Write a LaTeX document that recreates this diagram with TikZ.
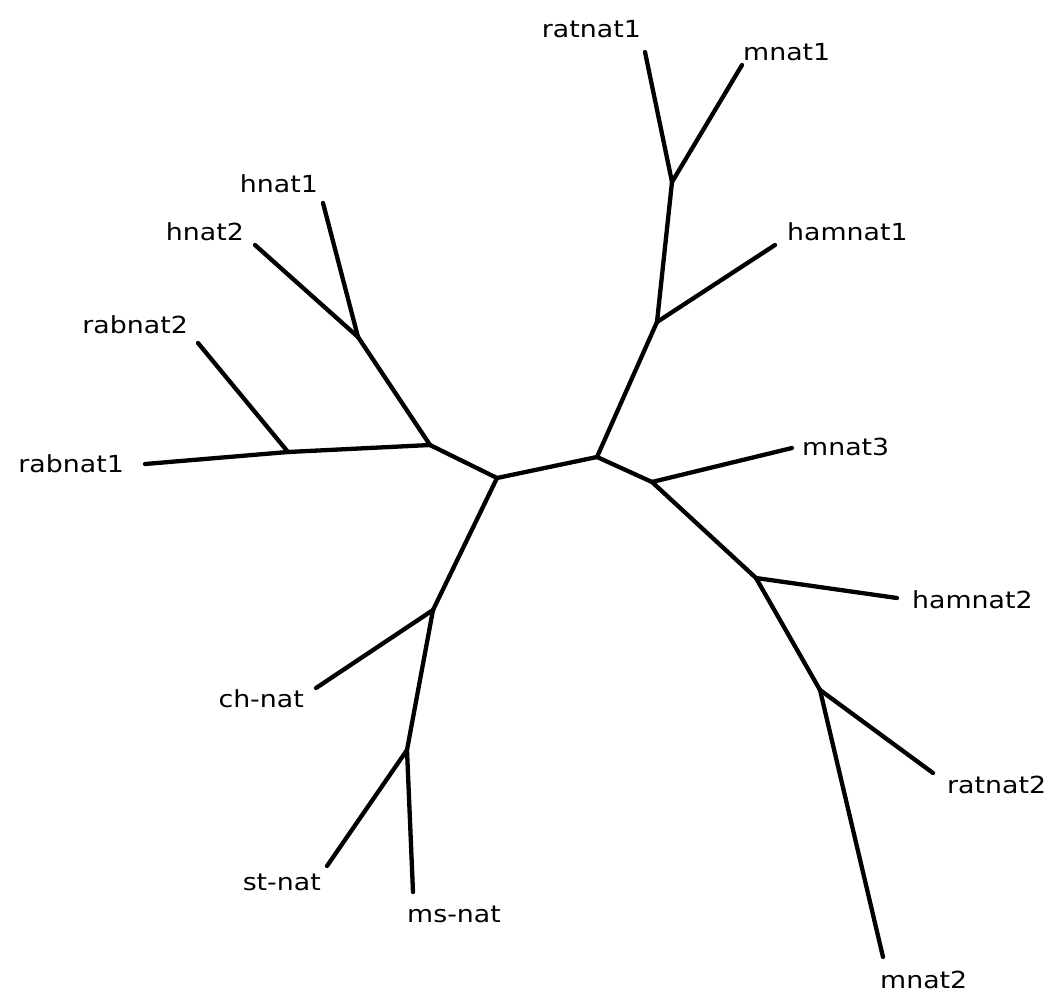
\documentclass[tikz,border=0pt]{standalone}
\usepackage{fontspec}
\newfontfamily\lab[FakeStretch=1.14]{DejaVu Sans}
\begin{document}
\begin{tikzpicture}[x=1pt,y=-1pt,
  branch/.style={line width=4.3pt,line cap=round,line join=round},
  lbl/.style={inner sep=0pt,font=\lab\fontsize{23.5}{27}\selectfont},
  lw/.style={lbl,anchor=base west},
  le/.style={lbl,anchor=base east}]
\useasboundingbox (0,0) rectangle (1058,993);
% internal nodes
\coordinate (A) at (497,478);
\coordinate (B) at (597,457);
\coordinate (C) at (430,445);
\coordinate (R) at (288,452);
\coordinate (Hn) at (358,337);
\coordinate (Ch) at (433,610);
\coordinate (St) at (407,750);
\coordinate (H) at (657,322);
\coordinate (G) at (672,182);
\coordinate (D) at (652,482);
\coordinate (E) at (756,578);
\coordinate (F) at (820,690);
% tips
\coordinate (trab1) at (145,464);
\coordinate (trab2) at (198,343);
\coordinate (th2) at (255,245);
\coordinate (th1) at (323,203);
\coordinate (tch) at (316,688);
\coordinate (tst) at (327,866);
\coordinate (tms) at (413,892);
\coordinate (tham1) at (775,245);
\coordinate (trat1) at (645,52);
\coordinate (tm1) at (742,65);
\coordinate (tm3) at (792,448);
\coordinate (tham2) at (897,598);
\coordinate (trat2) at (933,773);
\coordinate (tm2) at (883,957);
% branches
\draw[branch] (A) -- (B);
\draw[branch] (A) -- (C);
\draw[branch] (C) -- (R);
\draw[branch] (R) -- (trab1);
\draw[branch] (R) -- (trab2);
\draw[branch] (C) -- (Hn);
\draw[branch] (Hn) -- (th2);
\draw[branch] (Hn) -- (th1);
\draw[branch] (A) -- (Ch);
\draw[branch] (Ch) -- (tch);
\draw[branch] (Ch) -- (St);
\draw[branch] (St) -- (tst);
\draw[branch] (St) -- (tms);
\draw[branch] (B) -- (H);
\draw[branch] (H) -- (tham1);
\draw[branch] (H) -- (G);
\draw[branch] (G) -- (trat1);
\draw[branch] (G) -- (tm1);
\draw[branch] (B) -- (D);
\draw[branch] (D) -- (tm3);
\draw[branch] (D) -- (E);
\draw[branch] (E) -- (tham2);
\draw[branch] (E) -- (F);
\draw[branch] (F) -- (trat2);
\draw[branch] (F) -- (tm2);
% labels
\node[le] (lrat1) at (641,37) {ratnat1};
\node[lw] (lm1) at (743,60) {mnat1};
\node[le] (lh1) at (318,192) {hnat1};
\node[le] (lh2) at (244,240) {hnat2};
\node[lw] (lham1) at (787,240) {hamnat1};
\node[le] (lrab2) at (188,333) {rabnat2};
\node[le] (lrab1) at (124,472) {rabnat1};
\node[lw] (lm3) at (802,455) {mnat3};
\node[lw] (lham2) at (912,608) {hamnat2};
\node[le] (lch) at (304,707) {ch-nat};
\node[lw] (lrat2) at (947,793) {ratnat2};
\node[le] (lst) at (321,890) {st-nat};
\node[lw] (lms) at (407,922) {ms-nat};
\node[lw] (lm2) at (880,988) {mnat2};
\end{tikzpicture}
\end{document}
